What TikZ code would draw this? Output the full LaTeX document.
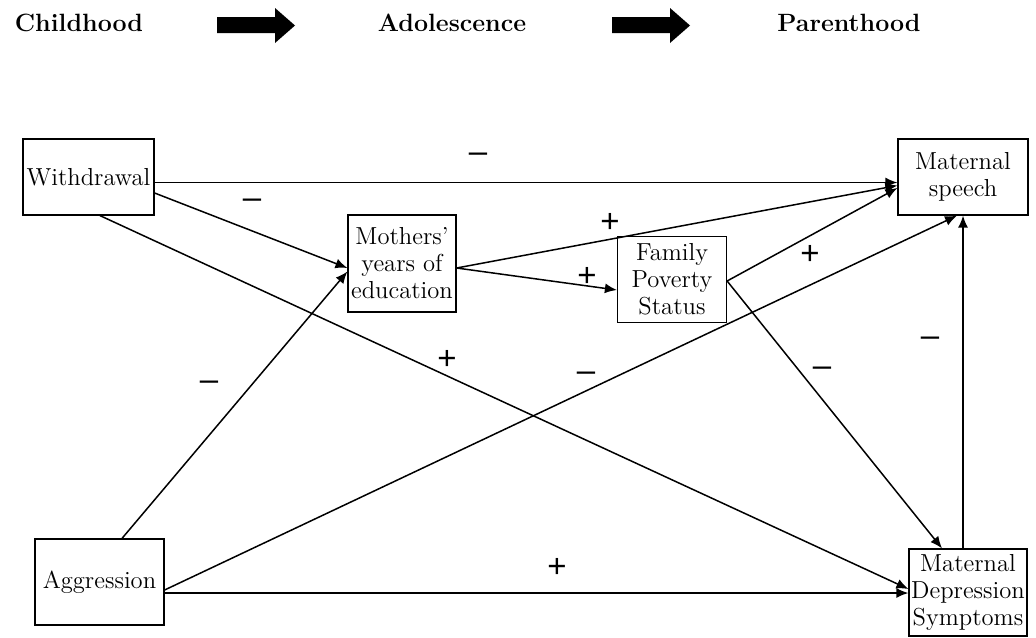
\documentclass[tikz,border=0pt]{standalone}
\usepackage{fontspec}
\newfontfamily\signfont{Liberation Sans}
\usetikzlibrary{arrows.meta}
\begin{document}
\begin{tikzpicture}[x=0.5pt,y=-0.5pt,
  box/.style={draw,line width=0.6pt,inner sep=0pt,align=center,font=\fontsize{12.3}{13.5}\selectfont},
  conn/.style={line width=0.75pt,-{Latex[length=6pt,width=5pt]}},
  sign/.style={font=\signfont\fontsize{16.5}{17}\selectfont,inner sep=0pt},
  hdr/.style={font=\fontsize{12.5}{14}\selectfont\bfseries,anchor=base,inner sep=0pt},
  fat/.style={fill=black}]
\useasboundingbox (0,0) rectangle (1036,637);
% header
\node[hdr] (ch) at (79,32) {Childhood};
\node[hdr] (ad) at (452,32) {Adolescence};
\node[hdr] (pa) at (849,32) {Parenthood};
\fill[fat] (217,17) -- (275,17) -- (275,8) -- (295,25.5) -- (275,43) -- (275,33) -- (217,33) -- cycle;
\fill[fat] (612,17) -- (670,17) -- (670,8) -- (690,25.5) -- (670,43) -- (670,33) -- (612,33) -- cycle;
% boxes
\node[box,minimum width=65.5pt,minimum height=38pt] (W) at (88.5,177) {Withdrawal};
\node[box,minimum width=54pt,minimum height=48.5pt] (M) at (402,263.5) {Mothers’\\years of\\education};
\node[box,minimum width=54.5pt,minimum height=43pt] (F) at (672,279.5) {Family\\Poverty\\Status};
\node[box,minimum width=65pt,minimum height=38pt] (S) at (963,177) {Maternal\\speech};
\node[box,minimum width=59pt,minimum height=43.5pt] (D) at (968,592.5) {Maternal\\Depression\\Symptoms};
\node[box,minimum width=64.5pt,minimum height=43pt] (A) at (99.5,582) {Aggression};
% connectors
\draw[conn] ([yshift=-2.75pt]W.east) -- ([yshift=-2.75pt]S.west);
\draw[conn] ([yshift=-8pt]W.east) -- ([yshift=-2.25pt]M.west);
\draw[conn] ([xshift=5.75pt]W.south) -- ([yshift=1.75pt]D.west);
\draw[conn] ([xshift=11.25pt]A.north) -- ([yshift=-4pt]M.west);
\draw[conn] ([yshift=-4pt]A.east) -- ([xshift=-3pt]S.south);
\draw[conn] ([yshift=-5.5pt]A.east) -- ([yshift=-0.25pt]D.west);
\draw[conn] ([yshift=-2.25pt]M.east) -- ([yshift=-4.25pt]S.west);
\draw[conn] ([yshift=-2.25pt]M.east) -- ([yshift=-5.25pt]F.west);
\draw[conn] ([yshift=-0.75pt]F.east) -- ([yshift=-5.5pt]S.west);
\draw[conn] ([yshift=-0.75pt]F.east) -- ([xshift=-13pt]D.north);
\draw[conn] ([xshift=-2.5pt]D.north) -- ([xshift=0pt]S.south);
% signs
\node[sign] (s1) at (478,158) {–};
\node[sign] (s2) at (252,204) {–};
\node[sign] (s3) at (610,223) {+};
\node[sign] (s4) at (587,277) {+};
\node[sign] (s5) at (810,255) {+};
\node[sign] (s6) at (447,360) {+};
\node[sign] (s7) at (209,386) {–};
\node[sign] (s8) at (586,377) {–};
\node[sign] (s9) at (822,372) {–};
\node[sign] (s10) at (930,342) {–};
\node[sign] (s11) at (557,568) {+};
\end{tikzpicture}
\end{document}
